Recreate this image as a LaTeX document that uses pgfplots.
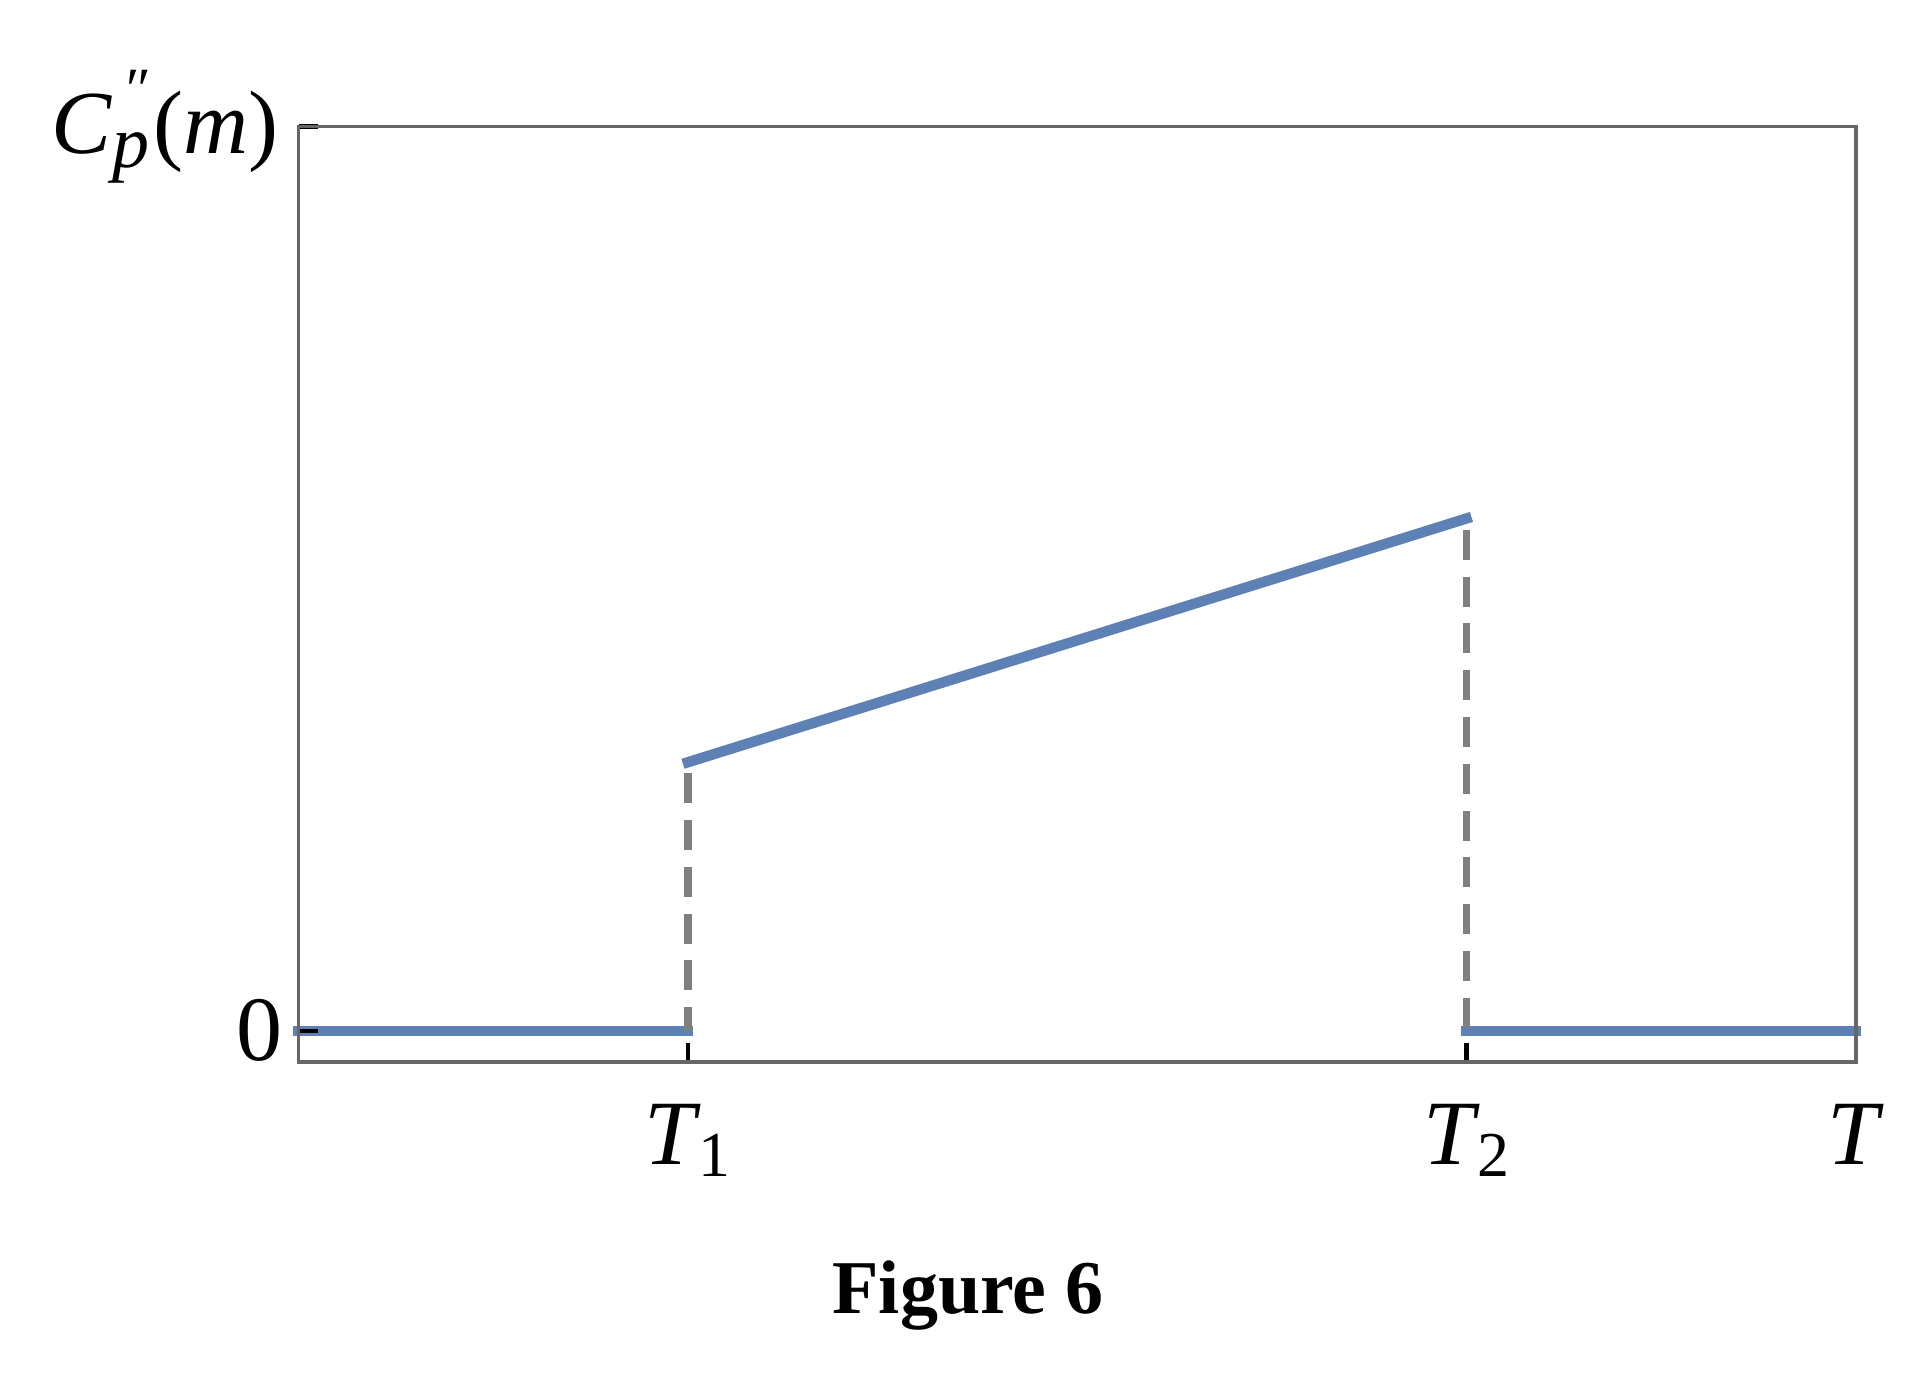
\documentclass[border=0pt]{standalone}
\usepackage{fontspec}
\setmainfont{Liberation Serif}
\usepackage{pgfplots}
\pgfplotsset{compat=1.18}
\definecolor{mblue}{RGB}{94,129,181}
\definecolor{frame}{RGB}{102,102,102}
\definecolor{dgray}{RGB}{128,128,128}
\newcommand{\Tsub}[1]{\textit{T}\kern-0.03em\raisebox{-3pt}{\fontsize{16}{16}\selectfont #1}}
\newcommand{\Cpp}{\fontsize{22.5}{26}\selectfont\textit{C}\kern0.01em\rlap{\kern2.5pt\raisebox{11pt}{\fontsize{15}{15}\selectfont\textit{″}}}\raisebox{-3.6pt}{\fontsize{18.5}{18.5}\selectfont\textit{p}}\kern0.04em(\textit{m})\kern0.9pt}
\begin{document}
\begin{tikzpicture}[x=1pt,y=1pt]
\useasboundingbox (0,0) rectangle (481.75,343.5);
\begin{axis}[at={(74.65pt,78.05pt)}, anchor=south west, scale only axis,
  width=389.3pt, height=233.8pt,
  xmin=0, xmax=1, ymin=-0.0343, ymax=1,
  axis on top, clip=false,
  axis line style={frame, line width=0.9pt},
  xtick={0.25,0.75,1}, xticklabels={\Tsub{1},\Tsub{2},\textit{T}},
  ytick={0,1}, yticklabels={0,\Cpp},
  tick align=inside, xtick pos=bottom, ytick pos=left,
  major tick length=4.75pt,
  tick style={black, line width=1.1pt},
  tick label style={font=\fontsize{23}{27}\selectfont},
  xticklabel style={yshift=-7pt},
  yticklabel style={xshift=-0.6pt},
]
\addplot[mblue, line width=2.6pt, line cap=rect] coordinates {(0,0) (0.25,0)};
\addplot[mblue, line width=2.6pt, line cap=rect] coordinates {(0.25,0.297) (0.75,0.5666)};
\addplot[mblue, line width=2.6pt, line cap=rect] coordinates {(0.75,0) (1,0)};
\addplot[dgray, line width=1.8pt, dash pattern=on 7.5pt off 4.2pt] coordinates {(0.25,0.285) (0.25,0)};
\addplot[dgray, line width=1.8pt, dash pattern=on 7.5pt off 4.2pt] coordinates {(0.75,0.554) (0.75,0)};
\end{axis}
\node[anchor=base, font=\bfseries\fontsize{19}{22}\selectfont] at (242,15.25) {Figure 6};
\end{tikzpicture}
\end{document}
